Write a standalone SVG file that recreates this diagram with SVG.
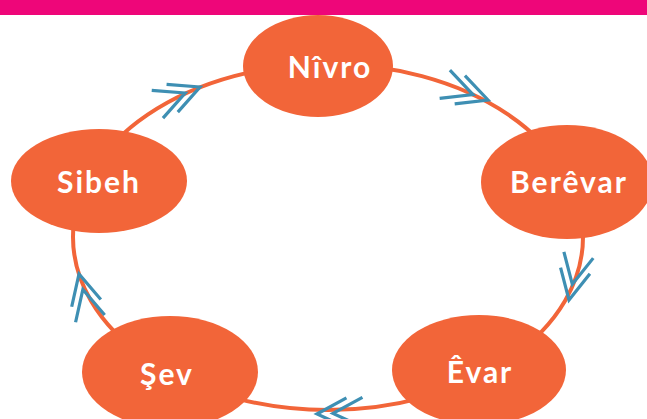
<svg xmlns="http://www.w3.org/2000/svg" xmlns:xlink="http://www.w3.org/1999/xlink" width="647" height="419" viewBox="0 0 647 419">
<style>
.node{fill:#F26539}
.lbl{fill:#FFFFFF;font-family:Lato,"Open Sans",sans-serif;font-weight:bold;font-size:30px;letter-spacing:2px;text-anchor:middle}
.ring{fill:none;stroke:#F26539;stroke-width:4}
.chev{fill:none;stroke:#3E8FB3;stroke-width:3.2;stroke-linecap:butt}
</style>
<defs>
<path id="chev" class="chev" d="M-30,-15 L0,0 L-30,15 M-46,-15 L-16,0 L-46,15"/>
</defs>
<rect x="0" y="0" width="647" height="15" fill="#EE0679"/>
<g id="connectors">
<ellipse class="ring" cx="328" cy="237" rx="255" ry="173"/>
<use xlink:href="#chev" transform="translate(200,87) rotate(-22)"/>
<use xlink:href="#chev" transform="translate(488,100) rotate(20)"/>
<use xlink:href="#chev" transform="translate(569,300) rotate(102)"/>
<use xlink:href="#chev" transform="translate(317,414) rotate(178)"/>
<use xlink:href="#chev" transform="translate(79,274) rotate(-104)"/>
</g>
<g id="nivro"><ellipse class="node" cx="318" cy="66" rx="75" ry="51"/><text class="lbl" x="330" y="78">Nîvro</text></g>
<g id="berevar"><ellipse class="node" cx="567" cy="182" rx="86" ry="57"/><text class="lbl" x="569" y="193">Berêvar</text></g>
<g id="evar"><ellipse class="node" cx="479" cy="370" rx="87" ry="55"/><text class="lbl" x="480" y="383">Êvar</text></g>
<g id="sev"><ellipse class="node" cx="170" cy="372" rx="88" ry="56"/><text class="lbl" x="167" y="385">Şev</text></g>
<g id="sibeh"><ellipse class="node" cx="99" cy="181" rx="88" ry="52"/><text class="lbl" x="99" y="193">Sibeh</text></g>
</svg>
